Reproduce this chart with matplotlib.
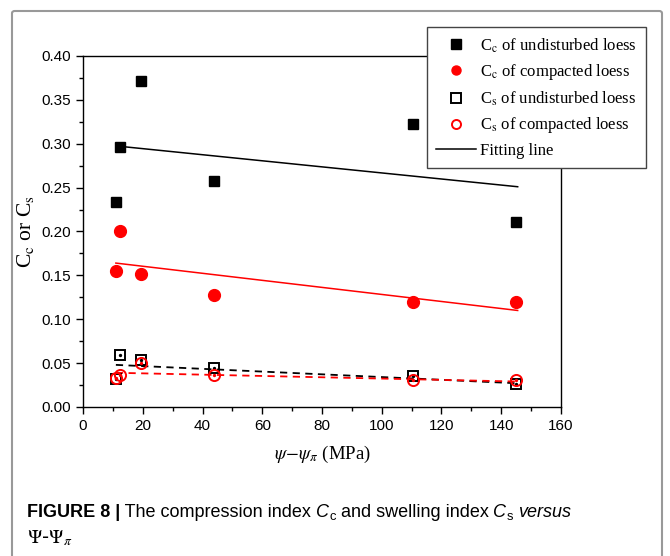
import matplotlib
matplotlib.use("Agg")
import matplotlib.pyplot as plt
import matplotlib.ticker as mticker
from matplotlib.patches import FancyBboxPatch

plt.rcParams["mathtext.fontset"] = "stix"

# suction values (MPa)
suction = [11, 12.5, 19.5, 44, 110.5, 145]

# compression / swelling indices
cc_undisturbed = [0.234, 0.296, 0.371, 0.257, 0.323, 0.211]
cc_compacted = [0.155, 0.200, 0.152, 0.128, 0.120, 0.120]
cs_undisturbed = [0.032, 0.059, 0.054, 0.044, 0.035, 0.026]
cs_compacted = [0.033, 0.037, 0.050, 0.037, 0.031, 0.031]

# fitting lines (end points)
fit_x_black = [12.5, 145.5]
fit_cc_und = [0.297, 0.251]
fit_x = [11, 145.5]
fit_cc_comp = [0.164, 0.110]
fit_cs_und = [0.048, 0.027]
fit_cs_comp = [0.039, 0.029]

SERIF = ["Liberation Serif", "DejaVu Serif"]
SANS = ["Liberation Sans", "DejaVu Sans"]

fig = plt.figure(figsize=(6.7, 5.56), dpi=100)
ax = fig.add_axes([0.1239, 0.268, 0.7134, 0.6313])

# fitting lines
ax.plot(fit_x_black, fit_cc_und, color="black", lw=1.1, zorder=2)
ax.plot(fit_x, fit_cc_comp, color="red", lw=1.1, zorder=2)
ax.plot(fit_x, fit_cs_und, color="black", lw=1.3, ls=(0, (4, 3)), zorder=2)
ax.plot(fit_x, fit_cs_comp, color="red", lw=1.3, ls=(0, (4, 3)), zorder=2)

# data points
h1, = ax.plot(suction, cc_undisturbed, ls="none", marker="s", ms=7.5,
              color="black", zorder=3)
h2, = ax.plot(suction, cc_compacted, ls="none", marker="o", ms=8.5,
              color="red", zorder=4)
h3, = ax.plot(suction, cs_undisturbed, ls="none", marker="s", ms=7,
              mfc="none", mec="black", mew=1.4, zorder=3)
ax.plot(suction, cs_undisturbed, ls="none", marker="o", ms=1.4,
        color="black", zorder=3)
h4, = ax.plot(suction, cs_compacted, ls="none", marker="o", ms=8,
              mfc="none", mec="red", mew=1.4, zorder=4)
ax.plot(suction, cs_compacted, ls="none", marker="o", ms=1.4,
        color="red", zorder=4)
h5, = ax.plot([], [], color="black", lw=1.1)

ax.set_xlim(0, 160)
ax.set_ylim(0, 0.40)
ax.xaxis.set_major_locator(mticker.MultipleLocator(20))
ax.xaxis.set_minor_locator(mticker.MultipleLocator(10))
ax.yaxis.set_major_locator(mticker.MultipleLocator(0.05))
ax.yaxis.set_minor_locator(mticker.MultipleLocator(0.025))
ax.yaxis.set_major_formatter(mticker.FormatStrFormatter("%.2f"))
ax.tick_params(which="major", direction="out", length=5, width=1,
               labelsize=11, top=False, right=False)
ax.tick_params(which="minor", direction="out", length=3, width=1,
               top=False, right=False)
for lab in ax.get_xticklabels() + ax.get_yticklabels():
    lab.set_family(SANS)
for sp in ax.spines.values():
    sp.set_linewidth(1.0)

ax.set_xlabel(r"$\psi$$\!-\!$$\psi_{\pi}$ (MPa)", family=SERIF, fontsize=13.5,
              labelpad=8)
ax.set_ylabel(r"C$_\mathrm{c}$ or C$_\mathrm{s}$", family=SERIF, fontsize=15.5,
              labelpad=4)

labels = [r"C$_\mathrm{c}$ of undisturbed loess",
          r"C$_\mathrm{c}$ of compacted loess",
          r"C$_\mathrm{s}$ of undisturbed loess",
          r"C$_\mathrm{s}$ of compacted loess",
          "Fitting line"]
leg = fig.legend([h1, h2, h3, h4, h5], labels,
                 loc="upper left", bbox_to_anchor=(427 / 670, 1 - 27 / 556),
                 prop={"family": SERIF, "size": 12}, frameon=True,
                 fancybox=False, edgecolor="#444444", framealpha=1,
                 borderpad=0.55, labelspacing=0.45, handlelength=2.4,
                 handletextpad=0.25, borderaxespad=0)
leg.get_frame().set_linewidth(1.0)
for lh in leg.legend_handles[:4]:
    lh.set_markersize(6.5)

# caption, laid out piece by piece
renderer = fig.canvas.get_renderer()
CAP = 13
pieces = [
    ("FIGURE 8 |", dict(fontweight="bold"), 0),
    (" The compression index ", {}, 0),
    ("C", dict(style="italic"), 0),
    ("c", dict(size=CAP * 0.72), -3),
    (" and swelling index ", {}, 0),
    ("C", dict(style="italic"), 0),
    ("s", dict(size=CAP * 0.72), -3),
    (" ", {}, 0),
    ("versus", dict(style="italic"), 0),
]
x_px = 27
base_px = 517
for txt, kw, dy in pieces:
    opts = dict(family=SANS, size=CAP)
    opts.update(kw)
    t = fig.text(x_px / 670, 1 - (base_px - dy) / 556, txt, va="baseline",
                 ha="left", **opts)
    x_px += t.get_window_extent(renderer).width

fig.text(27 / 670, 1 - 543 / 556, r"$\mathit{\Psi}$-$\mathit{\Psi}_{\pi}$",
         fontsize=14, va="baseline", ha="left")

# outer border of the figure panel
border = FancyBboxPatch((12 / 670, -0.05), (662 - 12) / 670, 1.05 - 11 / 556,
                        boxstyle="round,pad=0,rounding_size=0.004",
                        transform=fig.transFigure, fill=False,
                        edgecolor="#999999", lw=1.5, clip_on=False)
fig.patches.append(border)

fig.savefig("out.png", dpi=100)
